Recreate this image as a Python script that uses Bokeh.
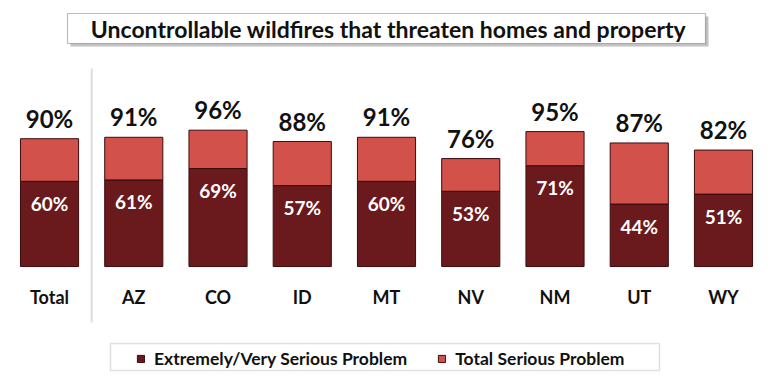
from bokeh.plotting import figure
from bokeh.models import ColumnDataSource, LabelSet, Label, BoxAnnotation, Range1d, Legend, LegendItem
from bokeh.core.properties import value
from bokeh.embed import file_html
from bokeh.resources import INLINE

# ---- data ----
categories = ["Total", "AZ", "CO", "ID", "MT", "NV", "NM", "UT", "WY"]
extremely_very = [60, 61, 69, 57, 60, 53, 71, 44, 51]
total_serious = [90, 91, 96, 88, 91, 76, 95, 87, 82]
title_text = "Uncontrollable wildfires that threaten homes and property"
series_names = ["Extremely/Very Serious Problem", "Total Serious Problem"]

DARK = "#6a1a1c"
LIGHT = "#d2524b"
FONT = "Lato"

W, H = 762, 372
x = list(range(len(categories)))
remainder = [t - e for t, e in zip(total_serious, extremely_very)]
source = ColumnDataSource(dict(
    x=x, cat=categories, dark=extremely_very, light=remainder, total=total_serious,
    dark_lbl=[f"{v}%" for v in extremely_very],
    total_lbl=[f"{v}%" for v in total_serious],
    zero=[0] * len(categories),
))

p = figure(width=W, height=H, output_backend="svg", toolbar_location=None,
           x_range=Range1d(-0.582, 8.463), y_range=Range1d(-74.6, 187.3),
           min_border=0, outline_line_color=None, background_fill_color="white",
           border_fill_color="white")
p.axis.visible = False
p.grid.visible = False

r = p.vbar_stack(["dark", "light"], x="x", width=0.69, source=source,
                 color=[DARK, LIGHT], line_color="#3a0c0c", line_width=1)

# separator between Total and states
p.add_layout(BoxAnnotation(left=0.5, right=0.5, top=H - 68, bottom=H - 322,
                           top_units="screen", bottom_units="screen",
                           fill_alpha=0, line_color="#8a8a8a", line_width=2))

# value labels
p.add_layout(LabelSet(x="x", y="total", text="total_lbl", source=source,
                      text_align="center", text_baseline="bottom", y_offset=6,
                      text_font=value(FONT), text_font_style="bold", text_font_size="24px",
                      text_color="#111111"))
p.add_layout(LabelSet(x="x", y="dark", text="dark_lbl", source=source,
                      text_align="center", text_baseline="middle", y_offset=-22,
                      text_font=value(FONT), text_font_style="bold", text_font_size="19px",
                      text_color="white"))
p.add_layout(LabelSet(x="x", y="zero", text="cat", source=source,
                      text_align="center", text_baseline="middle", y_offset=-30,
                      text_font=value(FONT), text_font_style="bold", text_font_size="18px",
                      text_color="#111111"))

# title box with shadow
p.add_layout(BoxAnnotation(left=70, right=708, top=H - 16, bottom=H - 46,
                           left_units="screen", right_units="screen",
                           top_units="screen", bottom_units="screen",
                           fill_color="#9a9a9a", fill_alpha=0.6, line_color=None))
p.add_layout(BoxAnnotation(left=67, right=705, top=H - 13, bottom=H - 43,
                           left_units="screen", right_units="screen",
                           top_units="screen", bottom_units="screen",
                           fill_color="white", fill_alpha=1, line_color="#222222", line_width=1.2))
p.add_layout(Label(x=388, y=H - 28, x_units="screen", y_units="screen", text=title_text,
                   text_align="center", text_baseline="middle", text_font=FONT,
                   text_font_style="bold", text_font_size="23px", text_color="#111111"))

# legend frame
p.add_layout(BoxAnnotation(left=110, right=659, top=H - 343, bottom=H - 370,
                           left_units="screen", right_units="screen",
                           top_units="screen", bottom_units="screen",
                           fill_alpha=0, line_color="#999999", line_width=1.5))
legend = Legend(items=[LegendItem(label=series_names[0], renderers=[r[0]]),
                       LegendItem(label=series_names[1], renderers=[r[1]])],
                orientation="horizontal", location=(136, H - 369),
                label_text_font=FONT, label_text_font_style="bold", label_text_font_size="17.5px",
                label_text_color="#111111", glyph_width=9, glyph_height=9,
                label_standoff=9, spacing=30, padding=3, margin=0,
                border_line_color=None, background_fill_alpha=0)
p.add_layout(legend)

open("out.html", "w").write(file_html(p, INLINE))
